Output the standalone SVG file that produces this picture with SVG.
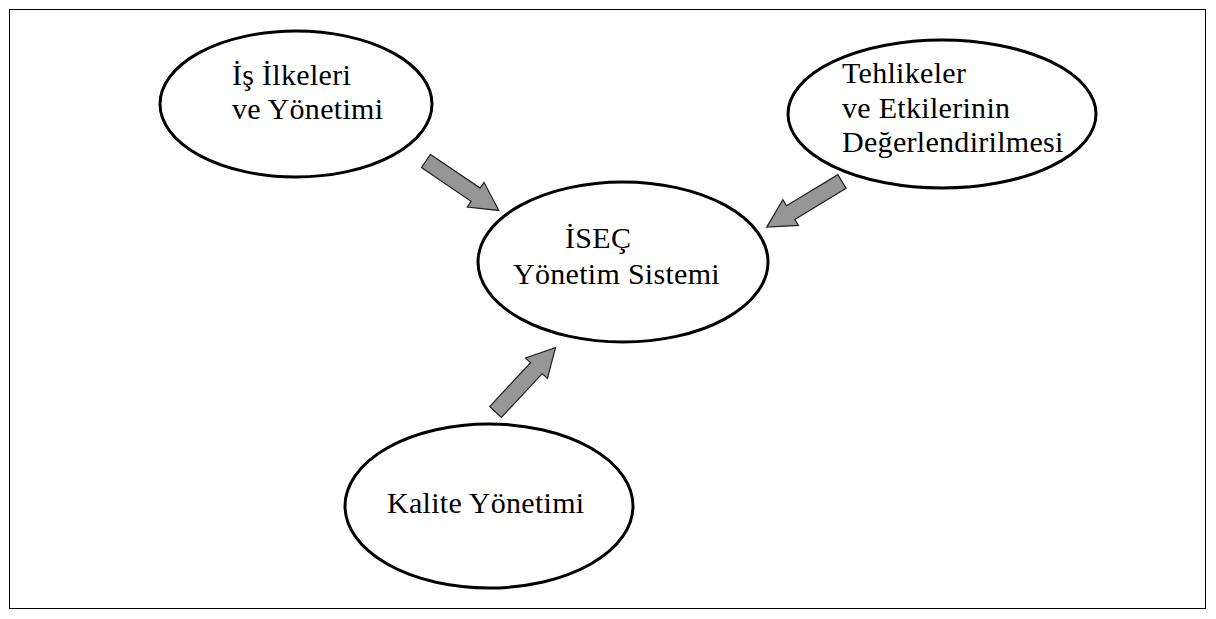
<svg xmlns="http://www.w3.org/2000/svg" width="1216" height="619" viewBox="0 0 1216 619">
<style>
.node ellipse{fill:#fff;stroke:#000;stroke-width:3}
.lbl{font-family:'Liberation Serif',serif;font-size:30px;letter-spacing:0.3px;fill:#000}
.arr{fill:#969696;stroke:#202020;stroke-width:1.2}
</style>
<defs>
<path id="arrow" d="M0,-8 L60,-8 L60,-15 L88,0 L60,15 L60,8 L0,8 Z"/>
</defs>
<rect x="9.5" y="9.5" width="1196" height="599" fill="#fff" stroke="#000" stroke-width="1"/>
<g id="connectors">
<use href="#arrow" class="arr" transform="translate(426,161) rotate(34.2)"/>
<use href="#arrow" class="arr" transform="translate(842,181.5) rotate(148.8)"/>
<use href="#arrow" class="arr" transform="translate(495.5,412) rotate(-47)"/>
</g>
<g id="node-is-ilkeleri" class="node">
<ellipse cx="296" cy="104" rx="136" ry="73"/>
<text class="lbl" x="232" y="85">İş İlkeleri</text>
<text class="lbl" x="232" y="119">ve Yönetimi</text>
</g>
<g id="node-tehlikeler" class="node">
<ellipse cx="942" cy="114" rx="154" ry="74"/>
<text class="lbl" x="842" y="83">Tehlikeler</text>
<text class="lbl" x="842" y="118">ve Etkilerinin</text>
<text class="lbl" x="842" y="152">Değerlendirilmesi</text>
</g>
<g id="node-isec" class="node">
<ellipse cx="623" cy="262" rx="145" ry="80"/>
<text class="lbl" x="565" y="248">İSEÇ</text>
<text class="lbl" x="513" y="284">Yönetim Sistemi</text>
</g>
<g id="node-kalite" class="node">
<ellipse cx="489" cy="506" rx="144" ry="82"/>
<text class="lbl" x="387" y="513">Kalite Yönetimi</text>
</g>
</svg>
